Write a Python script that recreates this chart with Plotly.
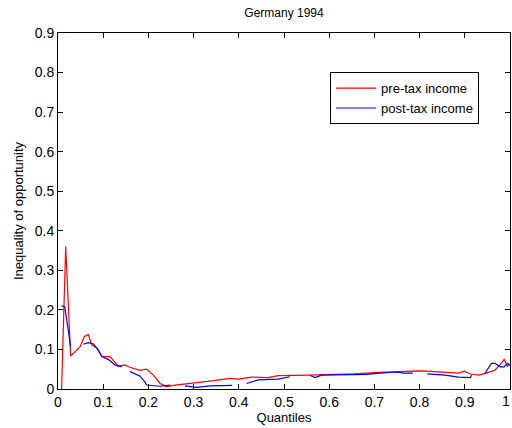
import plotly.graph_objects as go

pre_x = [0.008, 0.017, 0.028, 0.049, 0.058, 0.067, 0.075, 0.086, 0.097, 0.115, 0.133, 0.148,
         0.159, 0.181, 0.196, 0.211, 0.226, 0.240, 0.259, 0.285, 0.307, 0.344, 0.38, 0.399,
         0.428, 0.465, 0.487, 0.554, 0.613, 0.653, 0.712, 0.749, 0.794, 0.816, 0.886, 0.899,
         0.912, 0.93, 0.948, 0.967, 0.978, 0.987, 0.994, 1.0]
pre_y = [0.0, 0.36, 0.083, 0.107, 0.132, 0.138, 0.111, 0.104, 0.082, 0.082, 0.058, 0.061,
         0.055, 0.047, 0.05, 0.035, 0.014, 0.006, 0.01, 0.014, 0.016, 0.021, 0.027, 0.025,
         0.03, 0.029, 0.034, 0.035, 0.037, 0.038, 0.042, 0.044, 0.046, 0.045, 0.04, 0.045,
         0.038, 0.035, 0.04, 0.048, 0.061, 0.075, 0.058, 0.062]

post_x = [0.008, 0.015, 0.028, None, 0.056, 0.067, 0.078, 0.089, 0.097, 0.111, 0.126, 0.141,
          None, 0.159, 0.181, 0.192, 0.196, 0.226, 0.248, None, 0.281, 0.307, 0.336, 0.385,
          None, 0.417, 0.443, 0.487, 0.513, None, 0.558, 0.569, 0.583, 0.613, 0.646, 0.683,
          0.712, 0.749, 0.764, 0.785, None, 0.817, 0.856, 0.886, 0.912, 0.915, None,
          0.945, 0.959, 0.967, 0.978, 0.987, 0.995, 1.0]
post_y = [0.21, 0.208, 0.107, None, 0.113, 0.117, 0.114, 0.099, 0.082, 0.075, 0.061, 0.056,
          None, 0.044, 0.033, 0.018, 0.01, 0.007, 0.01, None, 0.008, 0.004, 0.008, 0.009,
          None, 0.014, 0.023, 0.025, 0.031, None, 0.034, 0.029, 0.035, 0.036, 0.036, 0.037,
          0.04, 0.043, 0.04, 0.04, None, 0.038, 0.035, 0.03, 0.029, 0.035, None,
          0.04, 0.065, 0.065, 0.056, 0.056, 0.065, 0.06]

x_ticks = [0, 0.1, 0.2, 0.3, 0.4, 0.5, 0.6, 0.7, 0.8, 0.9, 1]
x_labels = ["0", "0.1", "0.2", "0.3", "0.4", "0.5", "0.6", "0.7", "0.8", "0.9", "1"]
y_ticks = [0, 0.1, 0.2, 0.3, 0.4, 0.5, 0.6, 0.7, 0.8, 0.9]
y_labels = ["0", "0.1", "0.2", "0.3", "0.4", "0.5", "0.6", "0.7", "0.8", "0.9"]

font = "Liberation Sans, Arial, sans-serif"

fig = go.Figure()
fig.add_trace(go.Scatter(x=pre_x, y=pre_y, mode="lines", name="pre-tax income",
                         line=dict(color="#ff0000", width=1.2), connectgaps=False))
fig.add_trace(go.Scatter(x=post_x, y=post_y, mode="lines", name="post-tax income",
                         line=dict(color="#0000ff", width=1.2), connectgaps=False))

axis_common = dict(showgrid=False, zeroline=False, showline=True, linecolor="black",
                   linewidth=1, mirror="ticks", ticks="inside", ticklen=5,
                   tickcolor="black", tickfont=dict(family=font, size=14, color="black"))

fig.update_layout(
    width=512, height=428,
    margin=dict(l=58, r=2, t=33, b=39),
    paper_bgcolor="white", plot_bgcolor="white",
    hovermode=False,
    title=dict(text="Germany 1994", x=0.5, xref="paper", xanchor="center",
               y=0.97, yanchor="middle", font=dict(family=font, size=12, color="black")),
    xaxis=dict(range=[0, 1], tickvals=x_ticks, ticktext=x_labels,
               title=dict(text="Quantiles", font=dict(family=font, size=13, color="black"), standoff=0),
               **axis_common),
    yaxis=dict(range=[0, 0.9], tickvals=y_ticks, ticktext=y_labels,
               title=dict(text="Inequality of opportunity", font=dict(family=font, size=13, color="black"), standoff=8),
               **axis_common),
    legend=dict(x=0.602, y=0.89, xanchor="left", yanchor="top",
                bordercolor="black", borderwidth=1, bgcolor="white",
                font=dict(family=font, size=13, color="black"),
                tracegroupgap=0, itemwidth=40),
    showlegend=True,
)

# "1" tick label at the right edge (plotly drops labels overflowing the paper)
fig.add_annotation(x=x_ticks[-1], xref="x", y=0, yref="paper", text=x_labels[-1],
                   showarrow=False, xanchor="right", xshift=2, yanchor="top", yshift=-2,
                   font=dict(family=font, size=14, color="black"))

fig.write_html("out.html", config={"displayModeBar": False},
               post_script="document.body.style.margin='0';document.body.style.padding='0';")
